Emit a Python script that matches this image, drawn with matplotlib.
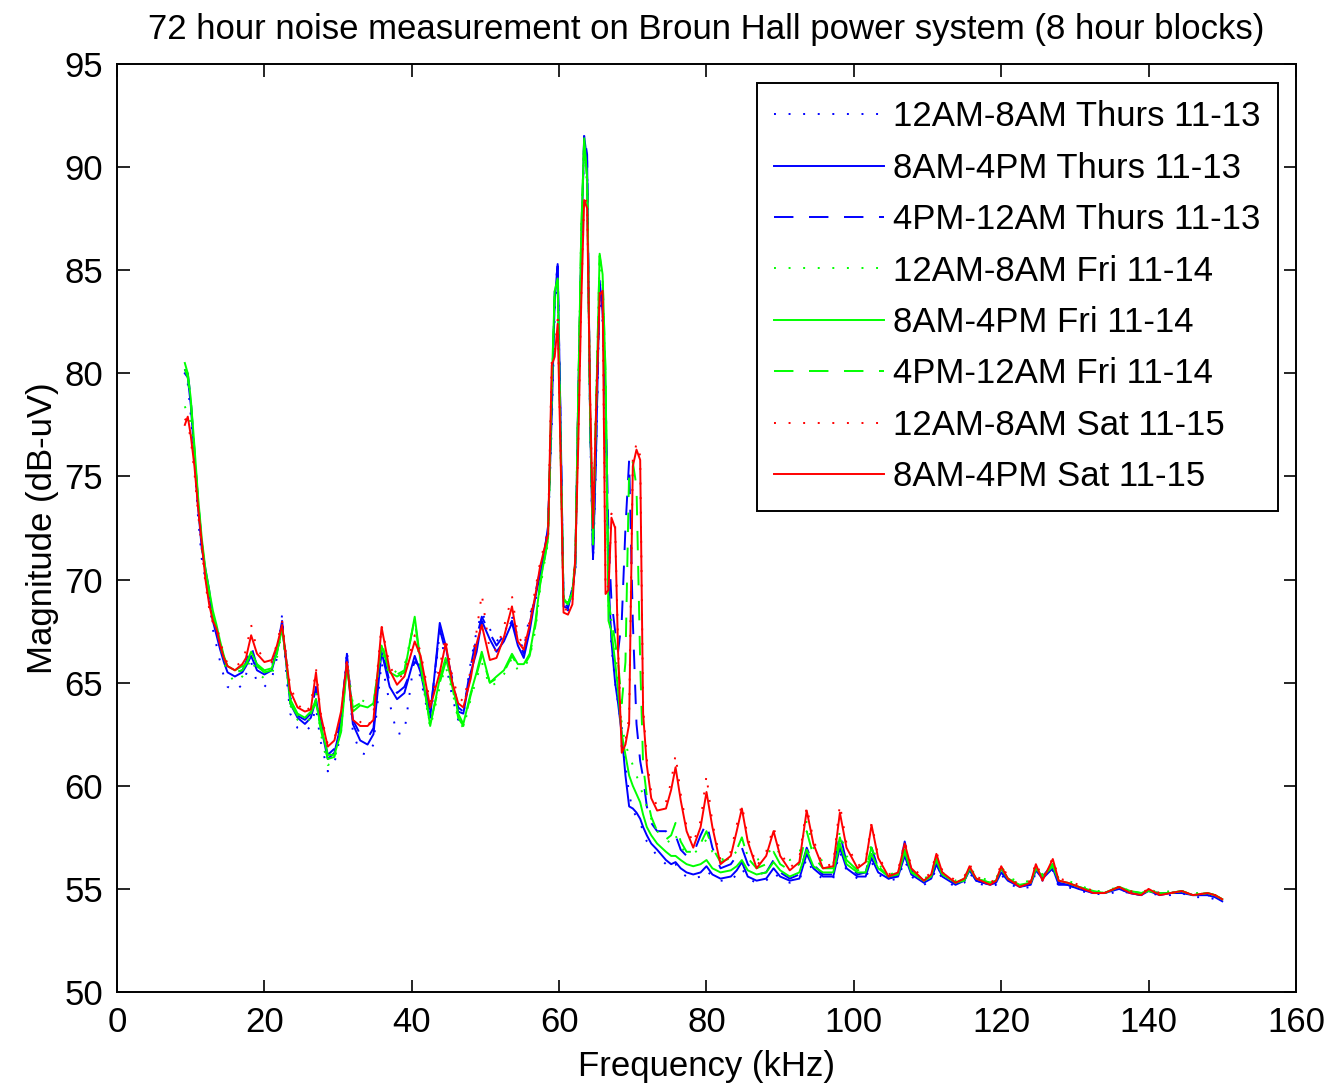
import matplotlib
matplotlib.use("Agg")
import matplotlib.pyplot as plt

plt.rcParams["font.family"] = ["Liberation Sans", "DejaVu Sans"]

freq_khz = [
    9.2, 9.6, 10.0, 10.5, 11.0, 11.5, 12.0, 12.5, 13.0, 13.5,
    14.0, 14.5, 15.0, 16.0, 17.0, 17.5, 18.2, 19.0, 20.0, 21.0,
    21.7, 22.4, 23.0, 23.5, 24.5, 25.5, 26.3, 27.0, 27.6, 28.6,
    29.5, 30.4, 31.2, 32.0, 33.0, 34.0, 34.8, 35.9, 37.0, 38.0,
    39.0, 40.4, 41.2, 42.5, 43.8, 44.6, 45.5, 46.3, 47.0, 48.0,
    48.8, 49.5, 50.6, 51.5, 52.5, 53.6, 54.4, 55.2, 56.0, 56.8,
    57.4, 58.0, 58.5, 59.0, 59.4, 59.8, 60.2, 60.6, 61.2, 61.8,
    62.2, 62.6, 63.0, 63.4, 63.8, 64.2, 64.6, 65.0, 65.5, 65.9,
    66.3, 66.7, 67.1, 67.6, 68.0, 68.5, 69.0, 69.5, 70.0, 70.5,
    71.0, 71.4, 71.9, 72.5, 73.3, 74.5, 75.2, 75.8, 76.5, 77.3,
    78.2, 79.2, 80.0, 80.8, 81.9, 83.3, 84.1, 84.8, 85.6, 86.8,
    88.1, 89.1, 90.0, 91.3, 92.6, 93.6, 94.5, 95.8, 97.2, 98.1,
    99.0, 100.5, 101.6, 102.4, 103.3, 104.7, 106.0, 106.9, 107.8, 109.5,
    110.5, 111.2, 112.0, 113.8, 115.0, 115.7, 116.6, 118.5, 119.3, 120.0,
    120.9, 122.5, 124.0, 124.7, 125.6, 127.0, 127.8, 129.0, 130.5, 132.5,
    134.0, 136.0, 137.5, 139.0, 140.0, 141.5, 143.0, 144.5, 146.0, 148.0,
    149.0, 150.0,
]

# 12AM-8AM Thurs 11-13
thu_night = [
    80.2, 79.5, 78.0, 75.8, 73.0, 71.0, 70.0, 69.0, 67.6, 66.8,
    66.0, 65.3, 64.8, 64.6, 64.9, 65.4, 66.0, 65.0, 64.8, 65.2,
    66.2, 68.3, 65.3, 63.5, 62.8, 62.6, 62.9, 63.8, 62.2, 60.7,
    61.1, 62.6, 66.6, 62.6, 61.6, 61.5, 62.0, 66.0, 64.0, 62.5,
    62.6, 66.3, 65.2, 63.0, 67.5, 66.0, 64.3, 63.2, 63.4, 66.0,
    67.5, 68.4, 67.6, 67.0, 67.4, 68.2, 67.2, 66.6, 68.3, 69.0,
    70.0, 71.0, 72.4, 77.5, 83.0, 85.0, 77.2, 68.9, 68.5, 69.3,
    70.4, 78.5, 85.5, 91.3, 90.0, 77.5, 70.8, 75.5, 84.0, 82.5,
    78.0, 69.5, 66.8, 65.0, 64.0, 62.8, 61.0, 59.6, 58.8, 58.5,
    58.2, 57.8, 57.3, 57.0, 56.6, 56.2, 56.0, 56.2, 55.8, 55.6,
    55.5, 55.6, 55.9, 55.6, 55.4, 55.4, 55.7, 56.0, 55.5, 55.3,
    55.4, 55.8, 55.5, 55.3, 55.4, 56.5, 55.8, 55.5, 55.5, 56.8,
    55.9, 55.5, 55.5, 56.3, 55.7, 55.4, 55.5, 56.4, 55.6, 55.2,
    55.4, 56.0, 55.5, 55.1, 55.3, 55.8, 55.3, 55.1, 55.2, 55.7,
    55.3, 55.0, 55.1, 55.8, 55.4, 55.9, 55.1, 55.1, 54.9, 54.8,
    54.7, 54.9, 54.8, 54.7, 54.8, 54.7, 54.7, 54.8, 54.6, 54.6,
    54.5, 54.3,
]

# 8AM-4PM Thurs 11-13
thu_day = [
    80.0, 79.8, 78.5, 76.0, 73.5, 71.5, 70.5, 69.5, 68.0, 67.3,
    66.6, 66.0, 65.5, 65.3, 65.5, 65.8, 66.3, 65.6, 65.4, 65.6,
    66.5, 67.8, 65.8, 64.0, 63.3, 63.0, 63.3, 64.2, 63.0, 61.3,
    61.6, 63.0, 66.2, 63.0, 62.2, 62.0, 62.5, 66.5, 64.8, 64.2,
    64.5, 66.3, 65.5, 63.3, 67.9, 66.8, 65.0, 63.6, 63.5, 65.5,
    66.5, 68.0, 67.1, 66.5, 67.0, 67.9, 66.8, 66.2, 67.5, 69.2,
    70.2, 71.3, 72.6, 78.0, 83.5, 85.3, 77.6, 68.7, 68.6, 69.5,
    70.6, 79.0, 86.0, 91.5, 90.3, 77.9, 71.0, 76.0, 84.5, 83.0,
    78.5, 70.0, 67.0, 65.0, 64.0, 62.5, 60.5, 59.0, 58.9, 58.7,
    58.4, 58.0, 57.6, 57.2, 56.9, 56.4, 56.2, 56.3, 56.0, 55.8,
    55.7, 55.8, 56.1, 55.7, 55.5, 55.6, 55.9, 56.3, 55.6, 55.4,
    55.5, 56.0, 55.6, 55.4, 55.5, 56.7, 56.0, 55.6, 55.6, 57.0,
    56.0, 55.6, 55.6, 56.5, 55.8, 55.5, 55.6, 56.6, 55.7, 55.3,
    55.5, 56.2, 55.6, 55.2, 55.4, 55.9, 55.4, 55.2, 55.3, 55.8,
    55.4, 55.1, 55.2, 55.9, 55.5, 56.0, 55.2, 55.2, 55.0, 54.8,
    54.8, 55.0, 54.8, 54.7, 54.9, 54.7, 54.8, 54.8, 54.7, 54.7,
    54.6, 54.4,
]

# 4PM-12AM Thurs 11-13
thu_eve = [
    80.0, 80.0, 78.8, 76.2, 73.8, 71.8, 70.2, 69.0, 68.2, 67.5,
    66.8, 66.2, 65.6, 65.5, 65.6, 66.0, 66.8, 65.8, 65.6, 65.8,
    66.6, 68.0, 66.0, 64.3, 63.4, 63.2, 63.5, 64.8, 63.2, 61.5,
    61.8, 63.3, 66.4, 63.2, 62.5, 62.3, 62.8, 66.8, 65.0, 64.5,
    64.8, 66.0, 65.8, 63.5, 67.6, 66.5, 65.2, 63.8, 63.6, 65.8,
    67.2, 68.2, 67.4, 66.8, 67.3, 68.0, 67.0, 66.4, 67.8, 69.4,
    70.4, 71.4, 72.5, 78.5, 84.0, 85.2, 77.5, 68.8, 68.7, 69.6,
    70.8, 78.8, 85.8, 91.6, 90.6, 78.0, 71.0, 76.3, 84.3, 83.2,
    79.0, 72.0, 69.0, 67.5, 66.5, 68.0, 72.5, 75.8, 68.0, 63.0,
    61.2, 60.4, 59.0, 58.2, 57.8, 57.8, 57.5, 57.6, 56.9, 56.6,
    56.7, 57.6, 58.2, 57.0, 56.0, 56.2, 56.6, 57.0, 56.2, 55.7,
    55.8, 56.4, 55.8, 55.5, 55.7, 57.0, 56.2, 55.7, 55.7, 57.7,
    56.3, 55.7, 55.8, 57.0, 56.0, 55.5, 55.7, 57.3, 55.9, 55.4,
    55.5, 56.2, 55.6, 55.3, 55.4, 56.0, 55.4, 55.2, 55.3, 56.0,
    55.4, 55.1, 55.3, 56.0, 55.6, 56.2, 55.3, 55.2, 55.0, 54.8,
    54.8, 55.0, 54.8, 54.7, 54.9, 54.8, 54.8, 54.9, 54.7, 54.7,
    54.6, 54.5,
]

# 12AM-8AM Fri 11-14
fri_night = [
    78.4, 78.0, 77.6, 76.0, 73.6, 71.6, 70.2, 69.2, 68.2, 67.6,
    66.8, 66.0, 65.5, 65.0, 65.3, 65.6, 66.2, 65.5, 65.2, 65.4,
    66.2, 67.5, 65.8, 63.9, 63.2, 63.0, 63.3, 64.5, 62.6, 61.0,
    61.2, 62.8, 66.0, 64.0, 64.2, 64.0, 63.8, 66.5, 65.3, 65.6,
    65.8, 68.0, 65.6, 62.8, 64.8, 65.8, 64.6, 63.2, 62.8, 64.2,
    65.2, 66.0, 64.8, 65.0, 65.4, 66.2, 65.6, 65.7, 66.2, 67.6,
    69.5, 70.8, 71.8, 79.0, 83.8, 84.3, 76.2, 69.2, 68.9, 69.6,
    71.0, 79.3, 87.0, 91.2, 89.0, 77.8, 71.5, 78.5, 85.5, 84.5,
    79.5, 68.5, 68.0, 66.8, 65.0, 63.0, 62.0, 61.5, 61.0, 60.5,
    60.0, 59.5, 59.0, 58.4, 57.8, 57.4, 57.2, 57.6, 57.0, 56.8,
    56.7, 57.0, 57.4, 56.8, 56.4, 56.6, 56.8, 57.4, 56.6, 56.4,
    56.6, 57.1, 56.7, 56.4, 56.7, 58.3, 57.0, 56.3, 56.2, 57.8,
    56.6, 56.0, 56.1, 57.2, 56.2, 55.7, 55.8, 57.0, 55.9, 55.5,
    55.7, 56.6, 55.8, 55.4, 55.5, 56.1, 55.6, 55.4, 55.5, 56.1,
    55.6, 55.3, 55.4, 56.1, 55.7, 56.2, 55.5, 55.4, 55.2, 54.9,
    54.9, 55.1, 54.9, 54.8, 55.0, 54.8, 54.9, 54.9, 54.8, 54.8,
    54.7, 54.6,
]

# 8AM-4PM Fri 11-14
fri_day = [
    80.5, 80.0, 78.8, 76.5, 74.0, 72.0, 70.5, 69.5, 68.5, 67.8,
    67.0, 66.3, 65.8, 65.6, 65.8, 65.9, 66.5, 65.9, 65.6, 65.7,
    66.5, 67.6, 66.0, 64.2, 63.5, 63.3, 63.6, 64.0, 63.0, 61.5,
    61.5, 62.6, 65.8, 63.6, 63.9, 63.8, 64.0, 66.8, 65.5, 65.3,
    65.5, 68.2, 66.0, 62.9, 65.2, 66.2, 65.0, 63.5, 63.0, 64.5,
    65.5, 66.5, 65.0, 65.3, 65.6, 66.4, 65.9, 65.9, 66.4, 68.0,
    69.8, 71.0, 72.0, 79.5, 84.0, 84.6, 76.4, 69.0, 68.8, 69.4,
    70.8, 79.0, 86.8, 91.4, 89.5, 78.0, 71.7, 78.0, 85.8, 84.8,
    80.0, 68.0, 67.5, 66.0, 64.6, 62.5, 61.5, 60.5, 60.0, 59.6,
    59.2, 58.6, 58.0, 57.6, 57.2, 56.8, 56.6, 56.6, 56.4, 56.2,
    56.1, 56.2, 56.4, 56.0, 55.8, 55.9, 56.1, 56.4, 55.9, 55.7,
    55.8, 56.3, 55.9, 55.6, 55.8, 56.9, 56.1, 55.8, 55.8, 57.2,
    56.2, 55.8, 55.8, 56.7, 56.0, 55.6, 55.7, 56.8, 55.8, 55.4,
    55.6, 56.5, 55.7, 55.3, 55.4, 56.0, 55.5, 55.3, 55.4, 56.0,
    55.5, 55.2, 55.3, 56.0, 55.6, 56.1, 55.4, 55.3, 55.1, 54.9,
    54.8, 55.1, 54.9, 54.8, 54.9, 54.8, 54.8, 54.9, 54.7, 54.8,
    54.7, 54.5,
]

# 4PM-12AM Fri 11-14
fri_eve = [
    80.2, 79.8, 78.6, 76.3, 73.8, 71.8, 70.4, 69.3, 68.3, 67.6,
    66.9, 66.2, 65.7, 65.5, 65.6, 65.9, 66.4, 65.8, 65.5, 65.6,
    66.4, 67.8, 65.9, 64.0, 63.4, 63.2, 63.5, 64.2, 62.8, 61.3,
    61.4, 62.8, 65.9, 63.8, 64.0, 63.9, 63.9, 67.0, 65.4, 65.4,
    65.6, 68.1, 65.8, 63.0, 65.0, 66.0, 64.8, 63.3, 62.9, 64.4,
    65.4, 66.3, 65.0, 65.2, 65.5, 66.3, 65.8, 65.8, 66.3, 67.8,
    69.7, 70.9, 72.0, 79.2, 84.0, 84.5, 76.4, 69.1, 68.8, 69.5,
    70.9, 79.1, 86.9, 91.3, 89.3, 78.2, 71.8, 78.2, 85.7, 84.6,
    80.0, 69.0, 68.0, 67.0, 66.0, 64.0, 66.0, 75.3, 75.7, 74.5,
    66.0, 61.0, 59.5, 58.5, 57.8, 57.4, 57.6, 58.2, 57.3, 56.8,
    56.8, 57.2, 57.8, 57.0, 56.3, 56.5, 56.9, 57.5, 56.5, 56.0,
    56.2, 56.8, 56.2, 55.9, 56.2, 57.8, 56.6, 56.0, 56.0, 57.5,
    56.4, 55.9, 56.0, 57.0, 56.1, 55.6, 55.8, 56.9, 55.9, 55.4,
    55.6, 56.4, 55.7, 55.3, 55.5, 56.0, 55.5, 55.3, 55.4, 56.0,
    55.5, 55.2, 55.3, 56.0, 55.6, 56.2, 55.4, 55.3, 55.1, 54.9,
    54.8, 55.1, 54.9, 54.8, 54.9, 54.8, 54.8, 54.9, 54.7, 54.8,
    54.7, 54.5,
]

# 12AM-8AM Sat 11-15
sat_night = [
    77.8, 77.6, 76.8, 75.2, 73.2, 71.5, 69.8, 68.6, 67.9, 67.8,
    67.0, 66.4, 65.9, 65.8, 66.0, 66.6, 67.8, 66.6, 66.2, 66.0,
    66.9, 68.0, 66.2, 64.8, 64.0, 63.5, 63.9, 65.7, 63.6, 62.0,
    62.3, 63.4, 66.2, 63.5, 63.1, 62.8, 63.5, 67.8, 65.8, 65.2,
    65.4, 67.3, 66.5, 64.0, 65.8, 67.2, 65.3, 64.3, 64.1, 65.6,
    67.5, 69.3, 66.5, 66.6, 67.7, 69.2, 67.3, 66.8, 68.0, 69.6,
    70.8, 71.7, 72.4, 80.6, 81.0, 82.6, 76.3, 68.6, 68.5, 69.0,
    71.3, 76.8, 83.6, 88.6, 88.2, 79.0, 72.7, 78.3, 84.0, 83.7,
    69.5, 69.7, 73.2, 72.6, 66.8, 61.8, 62.2, 63.3, 75.8, 76.6,
    76.0, 63.8, 61.3, 59.7, 59.0, 59.2, 60.2, 61.5, 59.6, 58.0,
    57.2, 58.3, 60.5, 58.2, 56.4, 56.8, 58.1, 59.1, 57.5, 56.1,
    56.8, 58.0, 56.8, 56.0, 56.5, 59.0, 57.4, 56.1, 56.2, 59.1,
    57.2, 56.1, 56.4, 58.2, 56.6, 55.7, 55.9, 57.3, 56.1, 55.5,
    55.8, 56.8, 55.9, 55.4, 55.6, 56.2, 55.6, 55.3, 55.5, 56.2,
    55.6, 55.2, 55.4, 56.3, 55.5, 56.5, 55.5, 55.4, 55.2, 54.9,
    54.8, 55.1, 54.9, 54.8, 55.0, 54.8, 54.8, 54.9, 54.7, 54.8,
    54.7, 54.5,
]

# 8AM-4PM Sat 11-15
sat_day = [
    77.5, 77.9, 77.0, 75.5, 73.5, 71.8, 70.0, 68.8, 68.0, 67.6,
    66.8, 66.2, 65.8, 65.6, 65.9, 66.2, 67.3, 66.4, 66.0, 66.1,
    66.8, 67.8, 66.0, 64.6, 63.8, 63.6, 63.7, 65.5, 63.5, 61.9,
    62.2, 63.6, 66.0, 63.2, 62.9, 62.9, 63.2, 67.7, 65.6, 64.9,
    65.3, 67.0, 66.3, 63.8, 65.5, 66.9, 65.0, 64.0, 63.8, 65.2,
    66.9, 67.8, 66.1, 66.2, 67.2, 68.7, 67.0, 66.6, 67.8, 69.3,
    70.6, 71.5, 72.2, 80.4, 80.8, 82.4, 76.0, 68.4, 68.3, 68.8,
    71.1, 76.6, 83.4, 88.4, 88.0, 79.0, 72.5, 78.0, 83.8, 84.0,
    69.3, 69.5, 73.0, 72.5, 66.5, 61.6, 62.0, 63.0, 75.5, 76.3,
    75.8, 63.5, 61.0, 59.4, 58.8, 58.9, 59.8, 60.9, 59.3, 57.8,
    57.0, 58.0, 59.7, 58.0, 56.2, 56.6, 57.8, 58.9, 57.3, 56.0,
    56.6, 57.8, 56.6, 55.9, 56.3, 58.8, 57.2, 56.0, 56.1, 58.7,
    57.0, 56.0, 56.3, 58.1, 56.5, 55.6, 55.8, 57.2, 56.0, 55.4,
    55.7, 56.7, 55.8, 55.3, 55.5, 56.1, 55.5, 55.2, 55.4, 56.1,
    55.5, 55.1, 55.3, 56.2, 55.4, 56.45, 55.4, 55.3, 55.1, 54.8,
    54.8, 55.1, 54.8, 54.7, 55.0, 54.7, 54.8, 54.9, 54.7, 54.8,
    54.7, 54.5,
]

labels = [
    "12AM-8AM Thurs 11-13",
    "8AM-4PM Thurs 11-13",
    "4PM-12AM Thurs 11-13",
    "12AM-8AM Fri 11-14",
    "8AM-4PM Fri 11-14",
    "4PM-12AM Fri 11-14",
    "12AM-8AM Sat 11-15",
    "8AM-4PM Sat 11-15",
]
series = [thu_night, thu_day, thu_eve, fri_night, fri_day, fri_eve, sat_night, sat_day]
colors = ["#0000ff"] * 3 + ["#00ff00"] * 3 + ["#ff0000"] * 2
dotted = (0, (1, 6.5))
dashed = (0, (10, 8))
styles = [dotted, "-", dashed, dotted, "-", dashed, dotted, "-"]

fig = plt.figure(figsize=(13.27, 10.88), dpi=100)
ax = fig.add_axes([0.0882, 0.0882, 0.8884, 0.853])

for vals, lab, c, ls in zip(series, labels, colors, styles):
    ax.plot(freq_khz, vals, color=c, linestyle=ls, linewidth=1.4, label=lab)

ax.set_xlim(0, 160)
ax.set_ylim(50, 95)
ax.set_xticks(range(0, 161, 20))
ax.set_yticks(range(50, 96, 5))
ax.tick_params(direction="in", length=9, width=1.2, top=True, right=True,
               labelsize=25, pad=10)
for sp in ax.spines.values():
    sp.set_linewidth(1.4)

ax.set_title("72 hour noise measurement on Broun Hall power system (8 hour blocks)",
             fontsize=25, pad=18)
ax.set_xlabel("Frequency (kHz)", fontsize=25, labelpad=8)
ax.set_ylabel("Magnitude (dB-uV)", fontsize=25, labelpad=4)

leg = ax.legend(loc="upper right", bbox_to_anchor=(0.985, 0.9795), borderaxespad=0,
                fontsize=25, handlelength=3.15, handletextpad=0.28, labelspacing=0.53,
                fancybox=False, framealpha=1, edgecolor="black", borderpad=0.5)
leg.get_frame().set_linewidth(1.4)

fig.savefig("out.png", dpi=100)
